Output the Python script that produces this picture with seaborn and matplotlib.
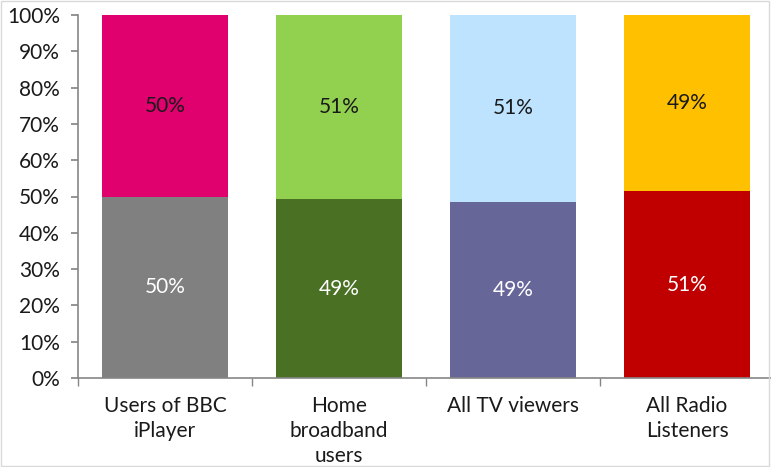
import matplotlib
matplotlib.use("Agg")
import matplotlib.pyplot as plt
import seaborn as sns
import pandas as pd
from matplotlib.ticker import FixedLocator, PercentFormatter
from matplotlib.patches import Rectangle

categories = ["Users of BBC\niPlayer", "Home\nbroadband\nusers", "All TV viewers", "All Radio\nListeners"]
lower_values = [50.0, 49.3, 48.6, 51.4]
upper_values = [50.0, 50.7, 51.4, 48.6]
upper_colors = ["#E0006E", "#92D050", "#BDE3FF", "#FFC000"]
lower_colors = ["#808080", "#4A7023", "#666699", "#C00000"]

sns.set_theme(style="white")
plt.rcParams["font.family"] = ["Lato", "DejaVu Sans"]

df = pd.DataFrame({"cat": categories, "lower": lower_values,
                   "total": [l + u for l, u in zip(lower_values, upper_values)]})

fig = plt.figure(figsize=(7.71, 4.67), dpi=100)
ax = fig.add_axes([78/771, 89/467, 696/771, 363/467])

sns.barplot(data=df, x="cat", y="total", hue="cat", palette=upper_colors,
            width=0.72, legend=False, ax=ax, saturation=1, linewidth=0)
sns.barplot(data=df, x="cat", y="lower", hue="cat", palette=lower_colors,
            width=0.72, legend=False, ax=ax, saturation=1, linewidth=0)

n = len(categories)
for i in range(n):
    ax.text(i, lower_values[i] / 2, f"{round(lower_values[i])}%", ha="center", va="center",
            color="white", fontsize=15)
    ax.text(i, lower_values[i] + upper_values[i] / 2, f"{round(upper_values[i])}%",
            ha="center", va="center", color="#1a1a1a", fontsize=15)

ax.set_ylim(0, 100)
ax.set_xlim(-0.5, n - 0.5)
ax.yaxis.set_major_locator(FixedLocator(list(range(0, 101, 10))))
ax.yaxis.set_major_formatter(PercentFormatter(decimals=0))
ax.set_xlabel("")
ax.set_ylabel("")
ax.tick_params(axis="y", labelsize=15, length=5, color="#868686", direction="out", left=True, pad=8)
ax.tick_params(axis="x", which="major", length=0, labelsize=15, pad=13)
ax.xaxis.set_minor_locator(FixedLocator([i - 0.5 for i in range(n + 1)]))
ax.tick_params(axis="x", which="minor", length=6, color="#868686", bottom=True, direction="out")
for t in ax.get_yticklabels() + ax.get_xticklabels():
    t.set_color("#1a1a1a")
for t in ax.get_xticklabels():
    t.set_linespacing(1.3)
for s in ["top", "right"]:
    ax.spines[s].set_visible(False)
for s in ["left", "bottom"]:
    ax.spines[s].set_color("#868686")
    ax.spines[s].set_linewidth(1.2)

fig.patches.append(Rectangle((0.001, 0.002), 0.997, 0.996, transform=fig.transFigure,
                             fill=False, edgecolor="#D9D9D9", linewidth=1))

fig.savefig("out.png", dpi=100)
